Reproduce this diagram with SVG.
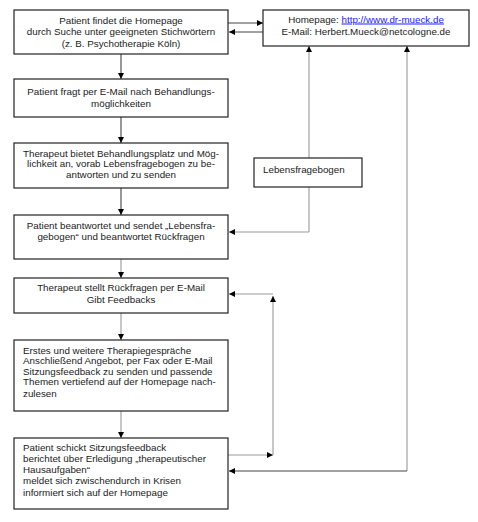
<svg xmlns="http://www.w3.org/2000/svg" width="478" height="522" viewBox="0 0 478 522">
<style>
.box{fill:#fff;stroke:#222;stroke-width:1.2}
.t{font-family:"Liberation Sans",Arial,sans-serif;font-size:9.8px;fill:#222}
.c{text-anchor:middle}
.ln{fill:none;stroke:#999;stroke-width:1.1}
.lk{fill:none;stroke:#444;stroke-width:1.1}
.link{fill:#1a1aff;text-decoration:underline}
</style>
<defs>
<marker id="ah" viewBox="0 0 10 10" refX="10" refY="5" markerWidth="6" markerHeight="6" markerUnits="userSpaceOnUse" orient="auto">
<path d="M0,0 L10,5 L0,10 z" fill="#000"/>
</marker>
</defs>
<rect width="478" height="522" fill="#fff"/>
<g id="connectors">
<line class="lk" x1="121" y1="54" x2="121" y2="79" marker-end="url(#ah)"/>
<line class="lk" x1="121" y1="117" x2="121" y2="143" marker-end="url(#ah)"/>
<line class="lk" x1="121" y1="188" x2="121" y2="215" marker-end="url(#ah)"/>
<line class="ln" x1="121" y1="259" x2="121" y2="278" marker-end="url(#ah)"/>
<line class="ln" x1="121" y1="313" x2="121" y2="340" marker-end="url(#ah)"/>
<line class="ln" x1="121" y1="411" x2="121" y2="438" marker-end="url(#ah)"/>
<line class="lk" x1="228" y1="23" x2="263" y2="23" marker-end="url(#ah)"/>
<line class="lk" x1="263" y1="32" x2="229" y2="32" marker-end="url(#ah)"/>
<polyline class="ln" points="309,232 309,46" marker-end="url(#ah)"/>
<polyline class="ln" points="309,232 229,232" marker-end="url(#ah)"/>
<polyline class="ln" points="407,471 407,46" marker-end="url(#ah)"/>
<polyline class="lk" points="407,471 229,471" marker-end="url(#ah)"/>
<polyline class="ln" points="228,455 273,455" marker-end="url(#ah)"/>
<polyline class="ln" points="273,455 273,296" marker-end="url(#ah)"/>
<polyline class="ln" points="273,294 229,294" marker-end="url(#ah)"/>
</g>
<g id="n1">
<rect class="box" x="14" y="10" width="214" height="44"/>
<text class="t c" x="121" y="23.5">Patient findet die Homepage</text>
<text class="t c" x="121" y="35">durch Suche unter geeigneten Stichwörtern</text>
<text class="t c" x="121" y="46.5">(z. B. Psychotherapie Köln)</text>
</g>
<g id="homepage">
<rect class="box" x="263" y="10" width="206" height="36"/>
<text class="t c" x="366" y="22.5">Homepage: <tspan class="link">http://www.dr-mueck.de</tspan></text>
<text class="t c" x="366" y="35">E-Mail: Herbert.Mueck@netcologne.de</text>
</g>
<g id="n2">
<rect class="box" x="14" y="79" width="214" height="38"/>
<text class="t c" x="121" y="94.5">Patient fragt per E-Mail nach Behandlungs-</text>
<text class="t c" x="121" y="106.5">möglichkeiten</text>
</g>
<g id="n3">
<rect class="box" x="14" y="143" width="214" height="45"/>
<text class="t c" x="121" y="156.5">Therapeut bietet Behandlungsplatz und Mög-</text>
<text class="t c" x="121" y="167">lichkeit an, vorab Lebensfragebogen zu be-</text>
<text class="t c" x="121" y="177.5">antworten und zu senden</text>
</g>
<g id="lebensfragebogen">
<rect class="box" x="254" y="158" width="108" height="29"/>
<text class="t" x="263" y="172.5">Lebensfragebogen</text>
</g>
<g id="n4">
<rect class="box" x="14" y="215" width="214" height="44"/>
<text class="t c" x="121" y="228.5">Patient beantwortet und sendet „Lebensfra-</text>
<text class="t c" x="121" y="239.5">gebogen“ und beantwortet Rückfragen</text>
</g>
<g id="n5">
<rect class="box" x="14" y="278" width="214" height="35"/>
<text class="t c" x="121" y="290.5">Therapeut stellt Rückfragen per E-Mail</text>
<text class="t c" x="121" y="302.5">Gibt Feedbacks</text>
</g>
<g id="n6">
<rect class="box" x="14" y="340" width="214" height="71"/>
<text class="t" x="23" y="353.5">Erstes und weitere Therapiegespräche</text>
<text class="t" x="23" y="364">Anschließend Angebot, per Fax oder E-Mail</text>
<text class="t" x="23" y="374.5">Sitzungsfeedback zu senden und passende</text>
<text class="t" x="23" y="385">Themen vertiefend auf der Homepage nach-</text>
<text class="t" x="23" y="397">zulesen</text>
</g>
<g id="n7">
<rect class="box" x="14" y="438" width="214" height="71"/>
<text class="t" x="23" y="450.5">Patient schickt Sitzungsfeedback</text>
<text class="t" x="23" y="462">berichtet über Erledigung „therapeutischer</text>
<text class="t" x="23" y="473">Hausaufgaben“</text>
<text class="t" x="23" y="484">meldet sich zwischendurch in Krisen</text>
<text class="t" x="23" y="495.5">informiert sich auf der Homepage</text>
</g>
</svg>
